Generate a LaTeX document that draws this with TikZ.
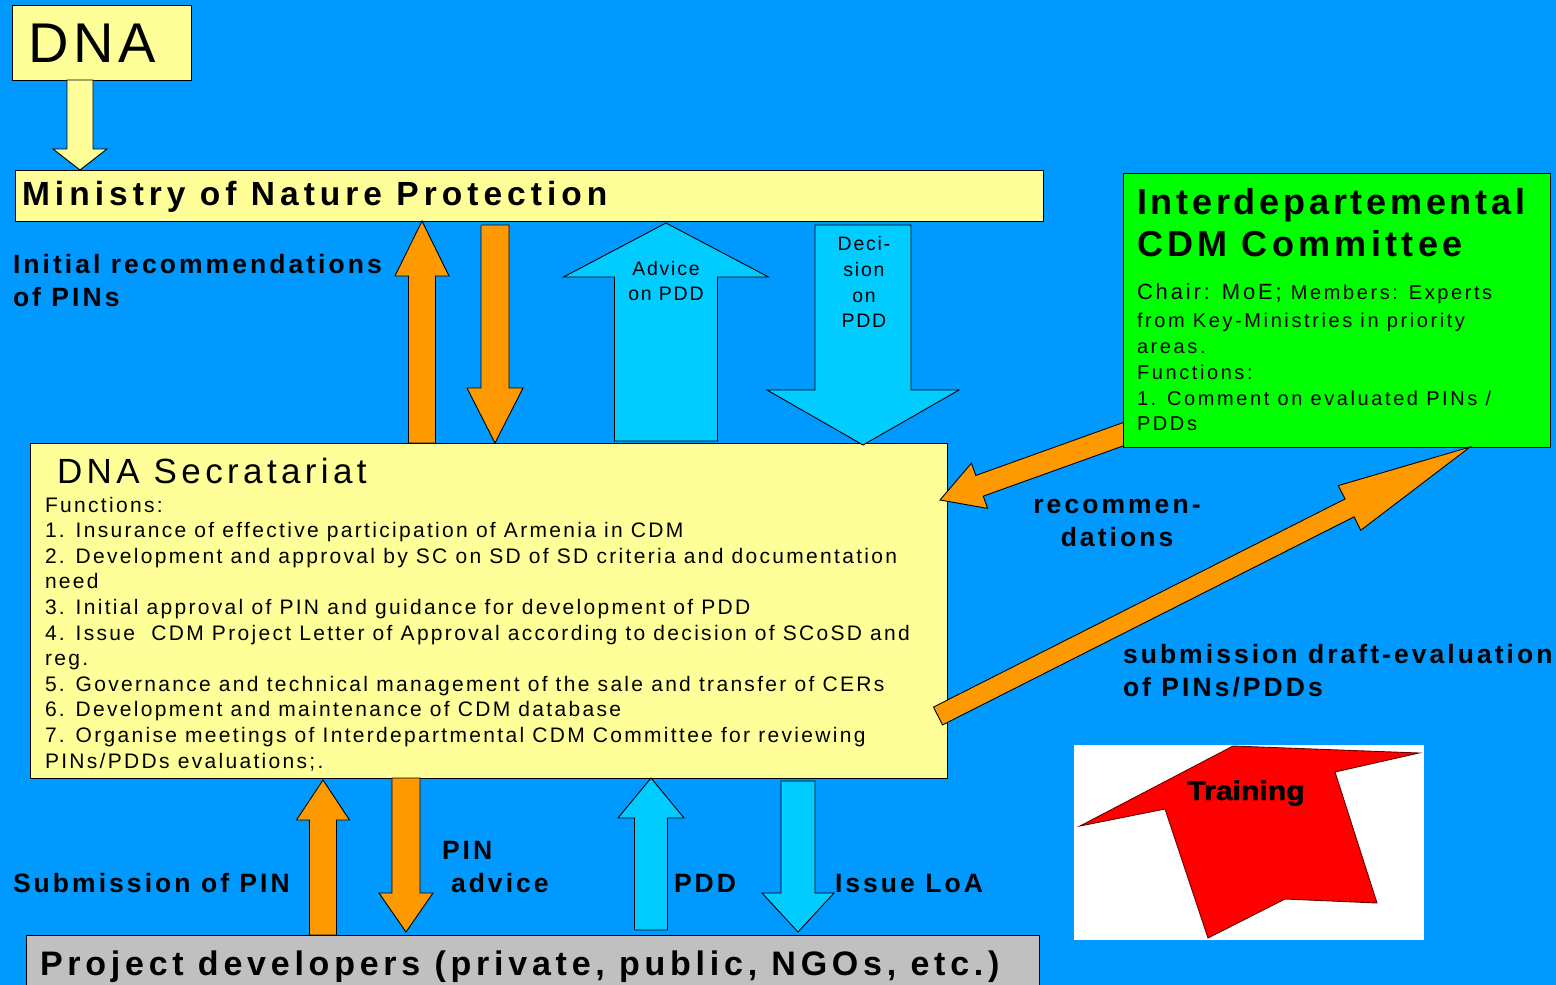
\documentclass[tikz,border=0pt]{standalone}
\usepackage{fontspec}
\usepackage{graphicx}
\setmainfont{Liberation Sans}
\usetikzlibrary{calc}
\definecolor{bgblue}{RGB}{0,153,255}
\definecolor{lyellow}{RGB}{255,255,153}
\definecolor{acyan}{RGB}{0,204,255}
\definecolor{aorange}{RGB}{255,153,0}
\definecolor{agreen}{RGB}{0,255,0}
\definecolor{agray}{RGB}{192,192,192}
\definecolor{tred}{RGB}{255,0,0}
\newcommand\fs[2]{\fontsize{#1}{#2}\selectfont}
\newcommand\blockarrow[6]{%
  \path (#1) coordinate (baS) (#2) coordinate (baT);
  \path ($(baT)!#5!(baS)$) coordinate (baH);
  \draw[#6] ($(baS)!#3!90:(baT)$) -- ($(baH)!#3!90:(baT)$) -- ($(baH)!#4!90:(baT)$) -- (baT) -- ($(baH)!#4!-90:(baT)$) -- ($(baH)!#3!-90:(baT)$) -- ($(baS)!#3!-90:(baT)$) -- cycle;
}
\tikzset{
  arr/.style={draw=black, line width=0.9pt, line join=miter},
  oarr/.style={arr, fill=aorange},
  carr/.style={arr, fill=acyan},
  yarr/.style={arr, fill=lyellow},
  box/.style={draw=black, line width=1pt, inner sep=0, outer sep=0, anchor=north west},
  txt/.style={inner sep=0, outer sep=0, anchor=base west},
  ctxt/.style={inner sep=0, outer sep=0, anchor=base},
  lbl/.style={txt, font=\fs{26.5}{30}\bfseries\addfontfeature{LetterSpace=11.5}},
  clbl/.style={ctxt, font=\fs{26.5}{30}\bfseries\addfontfeature{LetterSpace=11.5}},
  body/.style={txt, font=\fs{21}{25}\addfontfeature{LetterSpace=11}},
  gbody/.style={txt, font=\fs{20}{24}\addfontfeature{LetterSpace=13}},
  abody/.style={ctxt, font=\fs{19.5}{24}\addfontfeature{LetterSpace=9}}
}
\begin{document}
\begin{tikzpicture}[x=1pt,y=-1pt]
\fill[bgblue] (0,0) rectangle (1556,985);
\useasboundingbox (0,0) rectangle (1556,985);

% boxes
\node[box, fill=lyellow, minimum width=179pt, minimum height=75pt] (dna) at (12,5) {};
\node[txt] (dnat) at (28,62) {\fs{56}{60}\addfontfeature{LetterSpace=9}DNA};

\node[box, fill=lyellow, minimum width=1028pt, minimum height=51pt] (min) at (15,170) {};
\node[txt] (mint) at (22,205) {\fs{33.5}{36}\bfseries\addfontfeature{LetterSpace=15}Ministry of Nature Protection};

\node[box, fill=lyellow, minimum width=917pt, minimum height=335pt] (sec) at (30,443) {};
\node[txt] (sect) at (57,483) {\fs{35}{38}\addfontfeature{LetterSpace=12.5}DNA Secratariat};
\foreach \t [count=\i from 0] in {
  {Functions:},
  {1. Insurance of effective participation of Armenia in CDM},
  {2. Development and approval by SC on SD of SD criteria and documentation},
  {need},
  {3. Initial approval of PIN and guidance for development of PDD},
  {4. Issue\ \ CDM Project Letter of Approval according to decision of SCoSD and},
  {reg.},
  {5. Governance and technical management of the sale and transfer of CERs},
  {6. Development and maintenance of CDM database},
  {7. Organise meetings of Interdepartmental CDM Committee for reviewing},
  {PINs/PDDs evaluations;.}}
  \node[body] (sl\i) at (45,512+25.6*\i) {\t};

\node[box, fill=agray, minimum width=1013pt, minimum height=60pt] (pd) at (26,935) {};
\node[txt] (pdt) at (40,975) {\fs{34}{36}\bfseries\addfontfeature{LetterSpace=14}Project developers (private, public, NGOs, etc.)};

% arrows between ministry/DNA/secretariat
\blockarrow{80,0 |- dna.south}{80,0 |- min.north}{13pt}{27pt}{21pt}{yarr}
\blockarrow{422,0 |- sec.north}{422,0 |- min.south}{13.5pt}{27pt}{55pt}{oarr}
\blockarrow{$(495,0 |- min.south)+(0,4)$}{495,0 |- sec.north}{14pt}{28pt}{55pt}{oarr}
\blockarrow{$(666,0 |- sec.north)+(0,-2)$}{$(666,0 |- min.south)+(0,2)$}{51.5pt}{102.5pt}{54pt}{carr}
\blockarrow{$(863,0 |- min.south)+(0,4)$}{$(863,0 |- sec.north)+(0,2)$}{48pt}{96pt}{55pt}{carr}

\node[abody] (adv1) at (666,275) {Advice};
\node[abody] (adv2) at (666,300) {on PDD};
\node[abody] (dec1) at (864,250) {Deci-};
\node[abody] (dec2) at (864,276) {sion};
\node[abody] (dec3) at (864,302) {on};
\node[abody] (dec4) at (864,327) {PDD};

\node[lbl] (ir1) at (13,273) {Initial recommendations};
\node[lbl] (ir2) at (13,306) {of PINs};

% recommendations arrow (behind green box)
\coordinate (recstart) at (1160,421);
\blockarrow{recstart}{940,500}{11pt}{24pt}{42pt}{oarr}

% green committee box
\node[box, fill=agreen, minimum width=427pt, minimum height=274pt] (grn) at (1123,173) {};
\node[txt, font=\fs{36}{40}\bfseries\addfontfeature{LetterSpace=10.5}] (g1) at (1137,214) {Interdepartemental};
\node[txt, font=\fs{36}{40}\bfseries\addfontfeature{LetterSpace=12}] (g2) at (1137,256) {CDM Committee};
\node[txt] (g3) at (1137,299) {\fs{22}{24}\addfontfeature{LetterSpace=13}Chair: MoE;\hspace{9pt}\fs{20}{24}Members: Experts};
\node[gbody] (g4) at (1137,327) {from Key-Ministries in priority};
\node[gbody] (g5) at (1137,353) {areas.};
\node[gbody] (g6) at (1137,379) {Functions:};
\node[gbody] (g7) at (1137,405) {1. Comment on evaluated PINs /};
\node[gbody] (g8) at (1137,430) {PDDs};

% submission arrow
\blockarrow{938,716}{1470,0 |- grn.south}{10pt}{25pt}{135pt}{oarr}

\node[clbl] (rc1) at (1117,513) {recommen-};
\node[clbl] (rc2) at (1117,546) {dations};
\node[lbl] (sd1) at (1123,663) {submission draft-evaluation};
\node[lbl] (sd2) at (1123,696) {of PINs/PDDs};

% bottom arrows
\blockarrow{323,0 |- pd.north}{$(323,0 |- sec.south)+(0,2)$}{13.5pt}{26.5pt}{40pt}{oarr}
\blockarrow{406,0 |- sec.south}{$(406,0 |- pd.north)+(0,-3)$}{14pt}{27pt}{39pt}{oarr}
\blockarrow{$(651,0 |- pd.north)+(0,-5)$}{651,778}{16.5pt}{33pt}{40pt}{carr}
\blockarrow{$(798,0 |- sec.south)+(0,3)$}{$(798,0 |- pd.north)+(0,-3)$}{17pt}{36pt}{39pt}{carr}

\node[lbl] (sp) at (13,892) {Submission of PIN};
\node[lbl] (pa1) at (442,859) {PIN};
\node[lbl] (pa2) at (451,892) {advice};
\node[lbl] (pdd) at (674,892) {PDD};
\node[lbl] (loa) at (835,892) {Issue LoA};

% training picture
\node[box, draw=none, fill=white, minimum width=350pt, minimum height=195pt] (train) at (1074,745) {};
\draw[fill=tred, draw=black!60!red, line width=0.9pt, line join=miter]
  (1080,826) -- (1233,746) -- (1419,753) -- (1335,772) -- (1377,903) -- (1285,899) -- (1208,938) -- (1165,809) -- cycle;
\node[ctxt] (trt) at (1246,800) {\scalebox{1.12}[1]{\fs{27}{30}\bfseries\addfontfeature{FakeBold=1.5}Training}};
\end{tikzpicture}
\end{document}
